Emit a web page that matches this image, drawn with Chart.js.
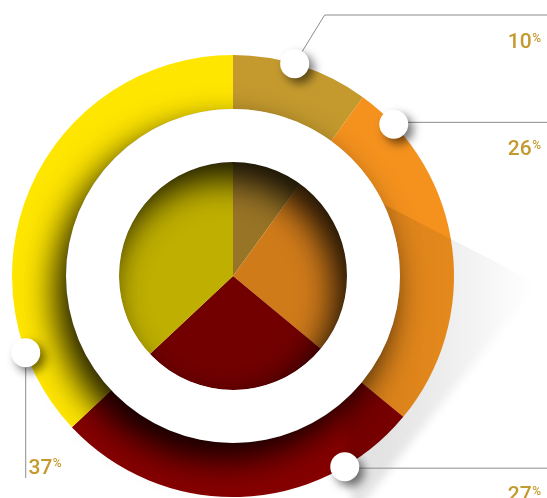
<!DOCTYPE html>
<html>
<head>
<meta charset="utf-8">
<script src="https://cdn.jsdelivr.net/npm/chart.js@4.4.1/dist/chart.umd.min.js"></script>
<style>
  html, body { margin: 0; padding: 0; background: #fff; }
  #wrap { width: 547px; height: 498px; }
</style>
</head>
<body>
<div id="wrap"><canvas id="ring" width="547" height="498"></canvas></div>
<script>
// share of each segment, clockwise from 12 o'clock
const segments = ['Segment A', 'Segment B', 'Segment C', 'Segment D'];
const shares = [10, 26, 27, 37];
const shareLabels = ['10', '26', '27', '37'];

// outer ring and inner pie use the same palette, the pie a shade darker
const ringColors = ['#C49A2E', '#F5921E', '#860000', '#FFE600'];
const pieColors = ['#987426', '#D07B1A', '#720000', '#BFAF00'];

// white band between ring and pie, casts the soft shadow
const bandShadow = {
    id: 'bandShadow',
    beforeDatasetDraw(chart, args) {
        if (args.index !== 1) return;
        const ctx = chart.ctx;
        ctx.save();
        ctx.shadowColor = 'rgba(0, 0, 0, 0.9)';
        ctx.shadowBlur = 34;
        ctx.shadowOffsetX = -11;
        ctx.shadowOffsetY = 16;
    },
    afterDatasetDraw(chart, args) {
        if (args.index !== 1) return;
        chart.ctx.restore();
    }
};

// faint cast shadow falling off to the right of the ring:
// sharp along its top edge, soft underneath
const sideShade = {
    id: 'sideShade',
    afterDatasetsDraw(chart) {
        const ctx = chart.ctx;
        const band = chart.getDatasetMeta(1).data[0];
        const cx = band.x, cy = band.y;
        const slope = 73 / 142;
        ctx.save();
        ctx.beginPath();
        ctx.rect(0, 0, chart.width, chart.height);
        ctx.arc(cx, cy, band.outerRadius, 0, Math.PI * 2, true);
        ctx.clip('evenodd');
        ctx.beginPath();
        ctx.moveTo(cx, cy - 72 - 150 * slope);
        ctx.lineTo(cx + 400, cy - 72 + 250 * slope);
        ctx.lineTo(cx + 400, cy + 400);
        ctx.lineTo(cx, cy + 400);
        ctx.closePath();
        ctx.clip();
        const g = ctx.createLinearGradient(cx + 150, 0, cx + 300, 0);
        g.addColorStop(0, 'rgba(0, 0, 0, 0.11)');
        g.addColorStop(0.4, 'rgba(0, 0, 0, 0.07)');
        g.addColorStop(1, 'rgba(0, 0, 0, 0)');
        ctx.fillStyle = g;
        ctx.filter = 'blur(4px)';
        ctx.beginPath();
        ctx.moveTo(cx + 120, cy - 110);
        ctx.lineTo(cx + 310, cy);
        ctx.lineTo(cx + 120, cy + 240);
        ctx.lineTo(cx + 100, cy);
        ctx.closePath();
        ctx.fill();
        ctx.restore();
    }
};

// pins on the ring with leader lines and percentage labels
const callouts = {
    id: 'callouts',
    afterDraw(chart, args, opts) {
        const ctx = chart.ctx;
        const W = chart.width;
        const meta = chart.getDatasetMeta(0);
        meta.data.forEach((arc, i) => {
            const c = opts.items[i];
            const a = arc.startAngle + c.at * (arc.endAngle - arc.startAngle);
            const x = arc.x + Math.cos(a) * arc.outerRadius;
            const y = arc.y + Math.sin(a) * arc.outerRadius;

            // leader line
            ctx.save();
            ctx.strokeStyle = '#8c8c8c';
            ctx.lineWidth = 1;
            ctx.beginPath();
            let textY;
            if (c.leader === 'elbow') {
                ctx.moveTo(x, y);
                ctx.lineTo(x + 30, c.y);
                ctx.lineTo(W, c.y);
                textY = c.y + 33;
            } else if (c.leader === 'across') {
                ctx.moveTo(x, y + c.dy);
                ctx.lineTo(W, y + c.dy);
                textY = y + c.dy + 33;
            } else {
                ctx.moveTo(x, y);
                ctx.lineTo(x, c.y);
            }
            ctx.stroke();
            ctx.restore();

            // pin
            ctx.save();
            ctx.shadowColor = 'rgba(0, 0, 0, 0.55)';
            ctx.shadowBlur = 10;
            ctx.shadowOffsetX = 5;
            ctx.shadowOffsetY = 5;
            ctx.fillStyle = '#fff';
            ctx.beginPath();
            ctx.arc(x, y, 14.5, 0, Math.PI * 2);
            ctx.fill();
            ctx.restore();

            // label
            ctx.save();
            ctx.fillStyle = '#C49A2E';
            ctx.textBaseline = 'alphabetic';
            const big = '500 21px Roboto, "Liberation Sans", Arial, sans-serif';
            const small = '500 12px Roboto, "Liberation Sans", Arial, sans-serif';
            ctx.font = small;
            const pw = ctx.measureText('%').width;
            if (c.leader === 'down') {
                ctx.font = big;
                ctx.textAlign = 'left';
                ctx.fillText(shareLabels[i], c.textX, c.textY);
                const dw = ctx.measureText(shareLabels[i]).width;
                ctx.font = small;
                ctx.fillText('%', c.textX + dw + 0.5, c.textY - 6.5);
            } else {
                const right = W - 6;
                ctx.textAlign = 'right';
                ctx.font = small;
                ctx.fillText('%', right, textY - 6.5);
                ctx.font = big;
                ctx.fillText(shareLabels[i], right - pw - 0.5, textY);
            }
            ctx.restore();
        });
    }
};

const ctx = document.getElementById('ring').getContext('2d');
new Chart(ctx, {
    type: 'doughnut',
    data: {
        labels: segments,
        datasets: [
            {
                data: shares,
                backgroundColor: ringColors,
                borderWidth: 0,
                weight: 54,
                order: 1
            },
            {
                data: [1],
                backgroundColor: ['#ffffff'],
                borderWidth: 0,
                weight: 53,
                order: 0
            },
            {
                data: shares,
                backgroundColor: pieColors,
                borderWidth: 0,
                weight: 114,
                order: 2
            }
        ]
    },
    options: {
        responsive: false,
        animation: false,
        events: [],
        cutout: 0,
        layout: {
            padding: { left: 12, right: 93, top: 55, bottom: 1 }
        },
        plugins: {
            legend: { display: false },
            tooltip: { enabled: false },
            callouts: {
                items: [
                    { at: 0.45, leader: 'elbow', y: 15 },
                    { at: 0.114, leader: 'across', dy: -2 },
                    { at: 0.206, leader: 'across', dy: 1.5 },
                    { at: 0.172, leader: 'down', y: 478, textX: 28.5, textY: 473.5 }
                ]
            }
        }
    },
    plugins: [bandShadow, sideShade, callouts]
});
</script>
</body>
</html>
